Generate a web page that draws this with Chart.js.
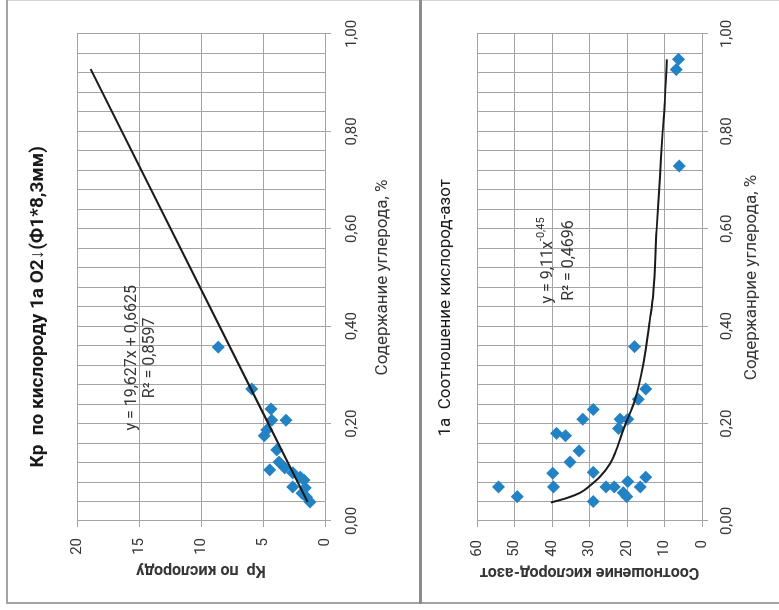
<!DOCTYPE html>
<html>
<head>
<meta charset="utf-8">
<script src="https://cdn.jsdelivr.net/npm/chart.js@4.4.1/dist/chart.umd.min.js"></script>
<style>
  html, body { margin: 0; padding: 0; background: #fff; }
  body { width: 779px; height: 610px; position: relative; overflow: hidden; }
  .panel { position: absolute; left: 0; top: 0; transform-origin: 0 0; }
  .line { position: absolute; }
</style>
</head>
<body>
<!-- both Excel charts are turned a quarter turn counter-clockwise in the picture -->
<div class="panel" style="width:602px;height:413px;transform:translate(7px,603px) rotate(-90deg)">
  <canvas id="chartKp" width="602" height="413"></canvas>
</div>
<div class="panel" style="width:602px;height:359px;transform:translate(420px,603px) rotate(-90deg)">
  <canvas id="chartRatio" width="602" height="359"></canvas>
</div>
<div class="line" style="left:7px;top:0;width:772px;height:1px;background:#d4d4d4"></div>
<div class="line" style="left:6px;top:0;width:2px;height:604px;background:#a3a3a3"></div>
<div class="line" style="left:6px;top:602px;width:773px;height:2px;background:#a3a3a3"></div>
<div class="line" style="left:419px;top:0;width:3px;height:604px;background:#8c8c8c"></div>

<script>
'use strict';

// left chart: Kp by oxygen vs carbon content
const carbonKp = [0.357, 0.271, 0.230, 0.207, 0.207, 0.187, 0.175, 0.146, 0.121, 0.105,
                  0.109, 0.099, 0.090, 0.084, 0.070, 0.068, 0.057, 0.049, 0.039];
const kpOxygen = [8.6, 5.9, 4.35, 3.15, 4.3, 4.7, 4.9, 3.9, 3.7, 4.45,
                  3.25, 2.6, 2.0, 1.7, 2.6, 1.6, 1.85, 1.5, 1.2];
const kpTrendX = [0.039, 0.928];
const kpTrendY = [1.4, 18.9];

// right chart: oxygen-nitrogen ratio vs carbon content
const carbonRatio = [0.948, 0.927, 0.729, 0.358, 0.271, 0.250, 0.229, 0.209, 0.209, 0.209,
                     0.190, 0.180, 0.175, 0.144, 0.121, 0.098, 0.100, 0.070, 0.070, 0.050,
                     0.070, 0.070, 0.081, 0.058, 0.050, 0.070, 0.090, 0.040];
const ratioON = [6.3, 6.9, 6.05, 18.0, 15.0, 17.0, 29.0, 31.8, 21.9, 19.8,
                 22.3, 38.8, 36.4, 32.8, 35.2, 39.8, 29.0, 39.6, 54.3, 49.3,
                 25.6, 23.4, 19.8, 21.0, 20.1, 16.5, 15.0, 29.0];
const ratioTrendX = [0.038, 0.047, 0.058, 0.070, 0.091, 0.118, 0.149, 0.187, 0.248,
                     0.324, 0.413, 0.467, 0.598, 0.707, 0.799, 0.864, 0.948];
const ratioTrendY = [40.3, 36.1, 32.5, 30.3, 27.2, 24.5, 22.7, 21.0, 17.9,
                     15.6, 13.9, 13.0, 12.1, 11.2, 10.5, 9.9, 9.4];

const FONT = 'Roboto, "Liberation Sans", sans-serif';
const GRID = '#a4a4a4';
const TEXT = '#363636';
const BLUE = '#2382c4';

var toPoints = (xs, ys) => xs.map((x, i) => ({x: x, y: ys[i]}));
var comma = (v, d) => v.toFixed(d).replace('.', ',');

// equation text in the plot, anchored to data coordinates
const eqLabels = {
  id: 'eqLabels',
  afterDatasetsDraw(chart, args, opts) {
    const ctx = chart.ctx;
    const sx = chart.scales.x, sy = chart.scales.y;
    ctx.save();
    ctx.fillStyle = TEXT;
    ctx.textBaseline = 'middle';
    ctx.textAlign = 'left';
    for (const l of opts.lines || []) {
      const px = sx.getPixelForValue(l.x), py = sy.getPixelForValue(l.y);
      ctx.font = '16px ' + FONT;
      const w1 = ctx.measureText(l.text).width;
      ctx.font = '11px ' + FONT;
      const w2 = l.sup ? ctx.measureText(l.sup).width : 0;
      const x0 = px - (w1 + w2) / 2;
      ctx.font = '16px ' + FONT;
      ctx.fillText(l.text, x0, py);
      if (l.sup) {
        ctx.font = '11px ' + FONT;
        ctx.fillText(l.sup, x0 + w1, py - 7);
      }
    }
    ctx.restore();
  }
};

var makeChart = (id, p) => {
  return new Chart(document.getElementById(id), {
    type: 'scatter',
    data: {
      datasets: [{
        data: p.trend,
        showLine: true,
        borderColor: '#1a1a1a',
        borderWidth: 2,
        pointRadius: 0,
        cubicInterpolationMode: 'monotone'
      }, {
        data: p.points,
        pointStyle: 'rectRot',
        pointRadius: 6.5,
        backgroundColor: BLUE,
        borderColor: BLUE,
        borderWidth: 0
      }]
    },
    options: {
      responsive: false,
      animation: false,
      layout: {padding: p.pad},
      plugins: {
        legend: {display: false},
        tooltip: {enabled: false},
        title: {
          display: true,
          text: p.title,
          color: '#1a1a1a',
          font: {family: FONT, size: p.titleSize, weight: p.titleWeight},
          padding: {top: 0, bottom: p.titleGap}
        },
        eqLabels: {lines: p.eq}
      },
      scales: {
        x: {
          type: 'linear', min: 0, max: 1,
          afterFit: (s) => { s.height = p.xHeight; },
          grid: {
            color: GRID, lineWidth: 1, tickLength: 6,
            tickColor: (c) => (Math.round(c.tick.value * 100) % 20 === 0 ? GRID : 'rgba(0,0,0,0)')
          },
          border: {color: GRID},
          ticks: {
            stepSize: 0.04, autoSkip: false, maxRotation: 0, padding: p.xPad,
            color: TEXT, font: {family: FONT, size: 15},
            callback: (v) => (Math.round(v * 100) % 20 === 0 ? comma(v, 2) : '')
          },
          title: {
            display: true, text: p.xTitle, color: TEXT,
            font: {family: FONT, size: 17}, padding: 0
          }
        },
        y: {
          type: 'linear', min: 0, max: p.yMax,
          afterFit: (s) => { s.width = p.yWidth; },
          grid: {color: GRID, lineWidth: 1, tickLength: 6},
          border: {color: GRID},
          ticks: {stepSize: p.yStep, padding: p.yPad, color: TEXT, font: {family: FONT, size: 15}},
          title: {
            display: true, text: p.yTitle, color: TEXT,
            font: {family: FONT, size: 16, weight: 'bold'}, padding: 0
          }
        }
      }
    },
    plugins: [eqLabels]
  });
};

window.onload = function() {
  makeChart('chartKp', {
    points: toPoints(carbonKp, kpOxygen),
    trend: toPoints(kpTrendX, kpTrendY),
    title: 'Кр  по кислороду 1а O2↓(Ф1*8,3мм)',
    titleSize: 19, titleWeight: 'bold', titleGap: 27.6,
    pad: {top: 19.6, left: 23.4, right: 33, bottom: 27},
    xTitle: 'Содержание углерода, %', xHeight: 68, xPad: 12,
    yTitle: 'Кр  по кислороду', yMax: 20, yStep: 5, yWidth: 58.6, yPad: 11,
    eq: [
      {text: 'y = 19,627x + 0,6625', x: 0.335, y: 15.6},
      {text: 'R² = 0,8597', x: 0.335, y: 14.1}
    ]
  });
  makeChart('chartRatio', {
    points: toPoints(carbonRatio, ratioON),
    trend: toPoints(ratioTrendX, ratioTrendY),
    title: '1а  Соотношение кислород-азот',
    titleSize: 17, titleWeight: 'normal', titleGap: 20.8,
    pad: {top: 15.8, left: 21.4, right: 33, bottom: 17},
    xTitle: 'Содержанрие углерода, %', xHeight: 60, xPad: 10,
    yTitle: 'Соотношение кислород-азот', yMax: 60, yStep: 10, yWidth: 60.6, yPad: 13,
    eq: [
      {text: 'y = 9,11x', sup: '-0,45', x: 0.535, y: 41.1},
      {text: 'R² = 0,4696', x: 0.535, y: 35.5}
    ]
  });
};
</script>
</body>
</html>
